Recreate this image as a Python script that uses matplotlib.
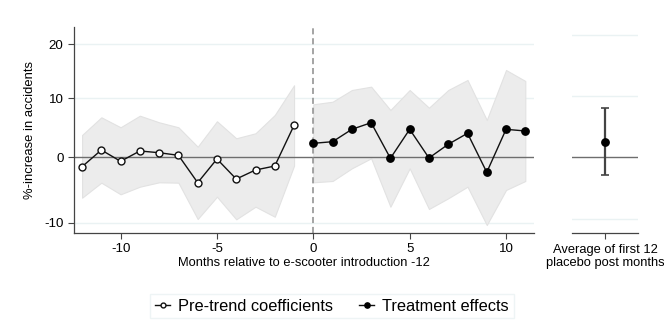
import numpy as np
import matplotlib
matplotlib.use("Agg")
import matplotlib.pyplot as plt
from matplotlib.lines import Line2D

plt.rcParams['font.family'] = ['Liberation Sans', 'DejaVu Sans']

# event-study coefficients (log points)
pre_months = [-12, -11, -10, -9, -8, -7, -6, -5, -4, -3, -2, -1]
pre_coef = [-0.0152, 0.0118, -0.0065, 0.0102, 0.0074, 0.0032,
            -0.0410, -0.0027, -0.0351, -0.0205, -0.0141, 0.0517]
pre_hi = [0.0360, 0.0646, 0.0485, 0.0672, 0.0565, 0.0485,
          0.0171, 0.0582, 0.0307, 0.0388, 0.0683, 0.1163]
pre_lo = [-0.0653, -0.0410, -0.0598, -0.0475, -0.0404, -0.0410,
          -0.0997, -0.0637, -0.1002, -0.0798, -0.0960, -0.0136]

post_months = [0, 1, 2, 3, 4, 5, 6, 7, 8, 9, 10, 11]
post_coef = [0.0226, 0.0252, 0.0452, 0.0559, -0.0016, 0.0452,
             -0.0011, 0.0210, 0.0388, -0.0242, 0.0452, 0.0425]
post_hi = [0.0856, 0.0898, 0.1087, 0.1141, 0.0764, 0.1087,
           0.0801, 0.1087, 0.1249, 0.0603, 0.1410, 0.1233]
post_lo = [-0.0404, -0.0383, -0.0178, -0.0016, -0.0798, -0.0178,
           -0.0835, -0.0662, -0.0475, -0.1094, -0.0528, -0.0383]

pct_ticks = [-10, 0, 10, 20]

# average effect (percent)
avg_label = "Average of first 12\nplacebo post months"
avg_est = 2.5
avg_lo = -2.9
avg_hi = 8.05

grid_col = "#eaf2f3"
band_col = "#ececec"

fig = plt.figure(figsize=(6.64, 3.32), dpi=100)
ax = fig.add_axes([0.1114, 0.2982, 0.6928, 0.6214])
ax2 = fig.add_axes([0.861, 0.2973, 0.1003, 0.6223])

# main panel
tick_pos = np.log(1 + np.array(pct_ticks) / 100)
for t in tick_pos:
    if t == 0:
        ax.axhline(t, color="#6e6e6e", lw=1.0, zorder=2)
    else:
        ax.axhline(t, color=grid_col, lw=1.0, zorder=0)

ax.fill_between(pre_months, pre_lo, pre_hi, color=band_col, lw=0.8,
                edgecolor="#e2e2e2", zorder=1)
ax.fill_between(post_months, post_lo, post_hi, color=band_col, lw=0.8,
                edgecolor="#e2e2e2", zorder=1)
ax.axvline(0, color="#8c8c8c", lw=1.1, ls=(0, (4, 2.5)), zorder=2)

ax.plot(pre_months, pre_coef, color="#111111", lw=1.0, marker="o", ms=5,
        mfc="white", mec="#111111", mew=1.0, zorder=4)
ax.plot(post_months, post_coef, color="#111111", lw=1.0, marker="o", ms=5.3,
        mfc="black", mec="black", zorder=4)

ax.set_xlim(-12.42, 11.45)
ax.set_ylim(-0.1223, 0.211)
ax.set_yticks(tick_pos)
ax.set_yticklabels([str(p) for p in pct_ticks])
ax.set_xticks([-10, -5, 0, 5, 10])
ax.set_xticklabels(["-10", "-5", "0", "5", "10"])
ax.tick_params(axis="both", labelsize=9.6, length=4, width=0.8, color="#444444")
ax.set_xlabel("Months relative to e-scooter introduction -12", fontsize=9.3, labelpad=1)
ax.set_ylabel("%-increase in accidents", fontsize=9.4, labelpad=6)
for s in ["top", "right"]:
    ax.spines[s].set_visible(False)
for s in ["left", "bottom"]:
    ax.spines[s].set_color("#444444")
    ax.spines[s].set_linewidth(0.9)

# right panel: average effect
for t in pct_ticks:
    if t == 0:
        ax2.axhline(t, color="#6e6e6e", lw=1.0, zorder=1)
    else:
        ax2.axhline(t, color=grid_col, lw=1.0, zorder=0)
ax2.errorbar([0], [avg_est], yerr=[[avg_est - avg_lo], [avg_hi - avg_est]],
             fmt="o", color="black", ecolor="#444444", elinewidth=1.6,
             capsize=3.2, capthick=1.2, ms=5.3, zorder=3)
ax2.set_xlim(-1, 1)
ax2.set_ylim(-12.35, 21.3)
ax2.set_yticks([])
ax2.set_xticks([0])
ax2.set_xticklabels([avg_label], fontsize=9.3, linespacing=1.1)
ax2.tick_params(axis="x", length=4, width=0.8, color="#444444")
for s in ["top", "right", "left"]:
    ax2.spines[s].set_visible(False)
ax2.spines["bottom"].set_color("#444444")
ax2.spines["bottom"].set_linewidth(0.9)

handles = [
    Line2D([], [], color="#111111", lw=1.0, marker="o", ms=3.5, mfc="white",
           mec="#111111"),
    Line2D([], [], color="#111111", lw=1.0, marker="o", ms=3.8, mfc="black",
           mec="black"),
]
leg = fig.legend(handles, ["Pre-trend coefficients", "Treatment effects"],
                 loc="center", bbox_to_anchor=(0.5, 0.0783), ncol=2,
                 fontsize=11.8, frameon=True, fancybox=False, handlelength=0.9,
                 handletextpad=0.5, columnspacing=1.6, borderpad=0.3)
leg.get_frame().set_edgecolor(grid_col)
leg.get_frame().set_linewidth(1.0)

fig.savefig("out.png", dpi=100)
